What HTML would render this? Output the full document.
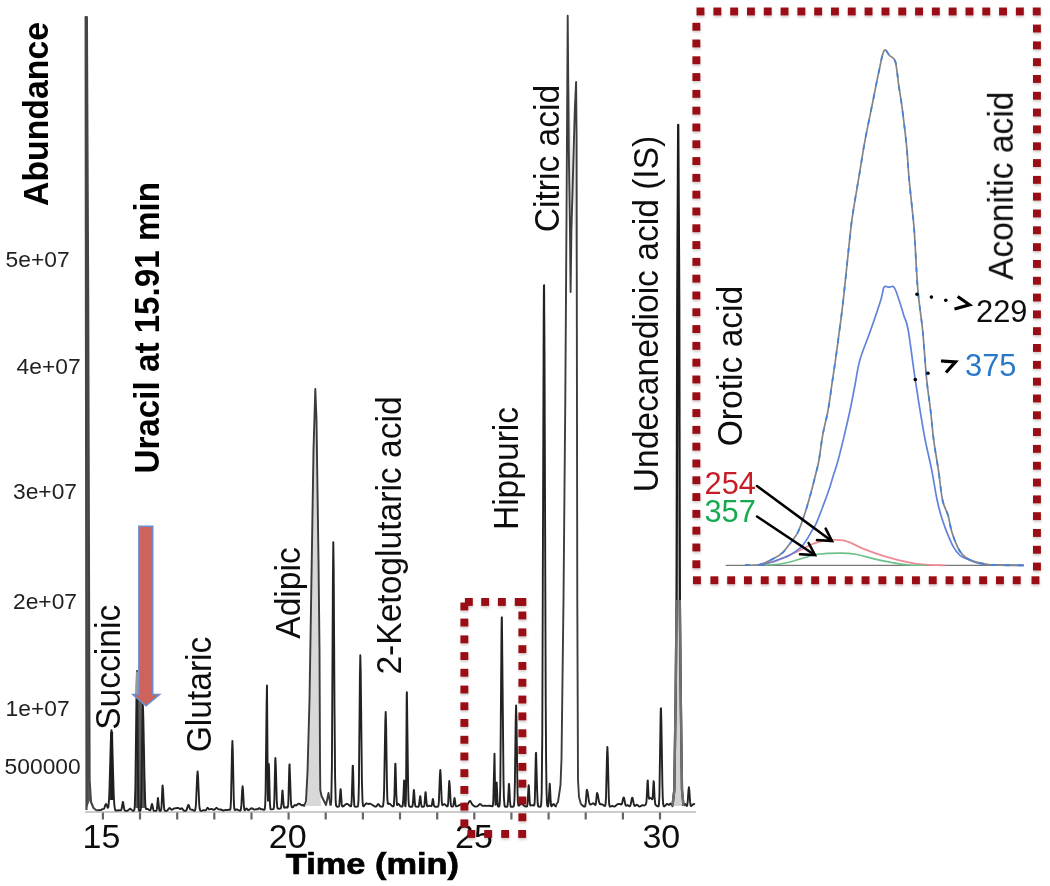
<!DOCTYPE html>
<html><head><meta charset="utf-8"><style>
html,body{margin:0;padding:0;background:#fff;}
body{width:1050px;height:886px;overflow:hidden;}
svg{display:block;will-change:transform;}
text{font-family:"Liberation Sans",sans-serif;}
</style></head><body>
<svg width="1050" height="886" viewBox="0 0 1050 886">
<defs><filter id="soft" x="0" y="0" width="1050" height="886" filterUnits="userSpaceOnUse"><feGaussianBlur stdDeviation="0.45"/></filter><filter id="sh" x="-10%" y="-10%" width="120%" height="120%"><feDropShadow dx="0.3" dy="2" stdDeviation="1" flood-color="#000" flood-opacity="0.18"/></filter></defs>
<rect width="1050" height="886" fill="#fff"/>
<g filter="url(#soft)">
<!-- axis -->
<line x1="85" y1="812" x2="696" y2="812" stroke="#bbb" stroke-width="1.5"/>
<g stroke="#666" stroke-width="2.2"><line x1="102.9" y1="812.5" x2="102.9" y2="819.5"/><line x1="140.0" y1="812.5" x2="140.0" y2="819.5"/><line x1="177.2" y1="812.5" x2="177.2" y2="819.5"/><line x1="214.3" y1="812.5" x2="214.3" y2="819.5"/><line x1="251.5" y1="812.5" x2="251.5" y2="819.5"/><line x1="288.6" y1="812.5" x2="288.6" y2="819.5"/><line x1="325.7" y1="812.5" x2="325.7" y2="819.5"/><line x1="362.9" y1="812.5" x2="362.9" y2="819.5"/><line x1="400.0" y1="812.5" x2="400.0" y2="819.5"/><line x1="437.2" y1="812.5" x2="437.2" y2="819.5"/><line x1="474.3" y1="812.5" x2="474.3" y2="819.5"/><line x1="511.4" y1="812.5" x2="511.4" y2="819.5"/><line x1="548.6" y1="812.5" x2="548.6" y2="819.5"/><line x1="585.7" y1="812.5" x2="585.7" y2="819.5"/><line x1="622.9" y1="812.5" x2="622.9" y2="819.5"/><line x1="660.0" y1="812.5" x2="660.0" y2="819.5"/></g>
<!-- fills -->
<path d="M135.3,808 L136.3,705 L137,670 L137.8,700 L142.8,700 L144.5,760 L146,808 Z" fill="#5c5c5c"/>
<path d="M306,806 L307.5,772 L309.5,700 L310.8,620 L312.5,520 L313.6,450 L315.3,389 L317,420 L318.5,560 L319.5,650 L320,760 L320.5,795 L321,806 Z" fill="#d8d8d8"/>
<path d="M567.7,40 L568.8,150 L570.0,231 L570.6,292 L571.4,231 L574.8,110 L576.1,82 L576.6,140 L576.8,292 Z" fill="#e6e6e6"/>
<!-- trace -->
<path d="M97.2,810.2 L100.8,810.1 L102.4,809.1 L103.8,808.9 L104.4,807.9 L105.4,804.8 L106.0,804.0 L106.4,804.4 L107.8,807.8 L108.0,807.7 L108.2,807.3 L108.4,806.5 L109.0,800.1 L109.4,791.6 L110.8,741.9 L111.4,730.3 L111.6,730.3 L112.0,736.3 L113.8,796.5 L114.4,805.7 L115.0,809.4 L115.4,810.3 L116.0,810.6 L118.6,810.3 L120.6,810.4 L121.0,810.3 L121.6,809.0 L122.8,802.0 L123.0,802.0 L123.2,802.7 L124.2,809.2 L124.8,810.6 L125.6,810.9 L127.4,810.7 L130.0,808.7 L130.6,808.8 L132.0,810.2 L132.8,810.7 L133.8,810.7 L134.2,810.2 L134.6,808.1 L134.8,805.7 L135.4,786.4 L136.6,685.4 L137.0,671.0 L138.2,795.5 L138.6,808.1 L138.8,809.9 L139.2,810.8 L140.2,810.8 L140.6,810.0 L141.0,806.5 L141.2,802.3 L141.6,785.1 L142.4,720.4 L142.8,705.0 L143.0,706.9 L143.4,721.0 L144.8,793.4 L145.4,805.3 L145.8,808.1 L146.2,809.0 L147.8,808.9 L149.6,810.2 L150.2,810.3 L150.8,809.1 L151.6,805.0 L152.0,804.0 L152.4,805.0 L153.2,809.2 L153.6,810.3 L154.0,810.8 L154.4,810.9 L156.0,810.9 L156.4,810.6 L156.8,809.5 L157.0,808.1 L157.8,798.8 L158.0,798.0 L159.2,809.5 L159.4,810.3 L159.8,810.8 L160.4,810.9 L160.8,810.7 L161.2,809.6 L161.6,805.4 L162.4,787.0 L162.6,785.5 L163.0,789.2 L164.0,807.2 L164.4,809.8 L164.8,810.7 L166.0,810.9 L167.2,810.6 L167.8,810.0 L169.0,808.4 L169.6,808.0 L170.2,808.3 L171.4,809.6 L172.0,809.8 L174.4,808.4 L177.8,808.0 L178.6,808.2 L180.4,809.1 L181.6,808.3 L182.0,808.3 L183.8,810.6 L184.6,810.9 L185.6,810.8 L186.2,810.5 L186.6,809.9 L188.0,805.5 L188.4,804.9 L188.8,805.4 L189.8,808.4 L190.4,809.4 L192.0,809.7 L194.0,810.7 L194.8,810.7 L195.4,809.4 L196.0,804.0 L197.2,775.5 L197.6,771.4 L198.0,775.5 L199.2,804.0 L199.6,808.3 L200.2,810.5 L201.0,810.9 L202.0,810.7 L203.8,810.1 L205.6,810.4 L206.2,809.9 L207.2,808.1 L207.6,807.8 L208.0,808.0 L209.0,809.3 L209.4,809.4 L211.6,808.9 L213.6,809.8 L214.2,809.8 L214.8,809.4 L216.0,808.0 L216.4,807.8 L216.8,807.9 L218.4,809.4 L220.6,809.5 L223.2,810.5 L224.0,810.4 L225.6,809.9 L227.0,810.1 L228.6,809.8 L230.0,809.9 L230.4,809.0 L230.6,807.5 L231.0,800.4 L232.0,751.1 L232.4,740.9 L232.8,751.1 L233.8,800.4 L234.2,807.6 L234.6,809.7 L235.0,810.0 L236.2,809.5 L237.0,809.4 L239.2,810.5 L240.0,810.7 L240.4,810.6 L240.8,809.8 L241.4,804.9 L242.2,789.9 L242.6,786.3 L243.0,789.9 L243.8,804.9 L244.2,808.8 L244.6,810.2 L245.0,810.2 L246.0,808.8 L246.4,808.5 L246.8,808.7 L247.8,809.9 L248.4,810.2 L249.0,809.9 L250.8,808.5 L251.4,808.3 L252.2,808.4 L253.8,809.4 L254.6,809.7 L256.4,809.1 L257.8,809.2 L259.2,808.1 L259.6,808.2 L260.8,809.3 L262.2,809.2 L263.8,809.9 L264.4,809.8 L264.8,808.9 L265.2,804.7 L265.6,791.7 L266.6,703.6 L267.0,685.5 L267.8,794.5 L268.0,800.7 L268.2,795.6 L268.8,764.0 L269.0,766.7 L269.8,799.7 L270.0,804.5 L270.4,808.6 L270.6,809.1 L271.0,809.4 L273.4,809.1 L273.8,808.1 L274.0,806.6 L274.4,798.1 L275.2,761.0 L275.4,758.0 L275.8,765.4 L276.8,801.4 L277.2,806.7 L277.6,808.3 L278.2,808.7 L280.2,808.5 L280.6,808.4 L281.0,807.9 L281.6,803.2 L282.2,792.7 L282.4,790.7 L282.6,790.6 L283.4,803.0 L284.0,807.4 L284.4,807.7 L285.8,807.3 L287.4,807.5 L287.8,807.1 L288.2,804.4 L288.4,800.8 L289.2,769.6 L289.4,764.7 L289.6,764.4 L290.8,799.2 L291.2,804.9 L291.6,806.9 L292.0,807.3 L292.6,807.3 L293.2,806.9 L294.6,805.0 L295.0,805.0 L295.8,805.5 L296.2,805.5 L298.0,804.0 L298.8,803.7 L299.6,803.9 L301.6,805.3 L302.2,805.3 L304.0,804.9 L304.0,806.5 M330.5,805.5 L331.1,802.3 L331.3,799.5 L331.9,766.5 L332.9,580.2 L333.3,542.1 L333.7,569.5 L334.5,707.4 L335.1,777.5 L335.7,801.4 L336.1,805.4 L336.5,806.4 L337.1,806.7 L338.7,806.6 L339.1,806.1 L339.3,805.4 L340.5,789.3 L340.7,789.3 L340.9,791.3 L341.7,803.9 L341.9,805.3 L342.3,806.4 L342.7,806.5 L343.5,806.2 L345.9,804.1 L346.7,803.8 L347.7,804.1 L350.3,806.2 L350.7,806.4 L351.1,806.0 L351.5,803.5 L351.7,800.1 L352.7,765.6 L352.9,765.6 L353.1,770.4 L353.7,794.6 L354.3,805.4 L354.7,806.5 L355.5,806.7 L357.5,806.6 L357.9,806.2 L358.1,805.4 L358.5,800.4 L358.9,784.5 L359.9,677.2 L360.3,655.2 L360.7,670.8 L361.9,780.2 L362.5,801.0 L362.9,805.1 L363.3,806.2 L363.7,806.2 L364.1,806.0 L365.7,803.8 L366.5,803.3 L368.1,804.0 L369.7,803.6 L370.3,803.7 L372.9,805.2 L374.3,806.2 L375.1,806.6 L375.7,806.6 L376.3,806.3 L378.1,804.0 L378.7,804.3 L379.9,806.1 L380.7,806.6 L382.5,806.6 L383.1,805.7 L383.7,800.5 L384.1,790.1 L385.3,721.7 L385.7,711.9 L386.1,725.4 L386.9,782.6 L387.3,797.6 L387.7,803.0 L388.1,804.0 L389.1,803.6 L389.7,803.7 L391.7,805.7 L392.7,806.4 L393.5,806.4 L393.9,805.3 L394.5,794.0 L395.1,768.6 L395.3,763.6 L395.5,763.6 L396.3,793.7 L396.9,804.4 L397.1,805.0 L397.3,805.1 L398.1,804.2 L398.7,804.0 L400.3,806.1 L401.3,806.6 L402.3,806.6 L402.7,805.8 L403.3,799.0 L404.1,780.4 L404.3,780.9 L404.9,801.8 L405.1,805.1 L405.3,806.2 L405.5,806.3 L405.9,799.6 L406.1,785.3 L406.7,694.9 L406.9,692.1 L408.1,784.6 L408.5,799.9 L408.9,805.2 L409.3,806.4 L409.9,806.7 L411.9,806.7 L412.3,806.4 L412.5,805.9 L412.9,803.1 L413.7,791.0 L413.9,790.0 L414.1,791.0 L414.9,803.1 L415.3,805.9 L415.7,806.6 L418.3,806.7 L418.7,806.4 L418.9,805.9 L420.1,796.2 L420.3,796.2 L420.5,797.4 L421.1,803.6 L421.5,805.9 L421.7,806.4 L422.1,806.7 L423.5,806.7 L423.9,806.5 L424.3,805.6 L424.5,804.4 L425.3,793.9 L425.5,792.2 L425.7,792.2 L426.5,802.3 L427.1,806.0 L427.5,806.3 L429.3,805.7 L431.1,806.2 L431.5,806.0 L431.9,804.9 L432.7,799.4 L432.9,799.0 L433.1,799.4 L433.9,805.0 L434.3,806.3 L434.7,806.6 L435.3,806.7 L437.5,806.7 L438.1,806.4 L438.5,805.2 L438.9,801.3 L439.9,775.3 L440.3,769.9 L440.7,775.2 L441.7,800.8 L442.1,804.3 L442.5,805.2 L443.7,804.3 L444.3,804.1 L444.9,804.4 L446.9,806.3 L447.3,806.4 L447.7,806.1 L448.1,803.8 L448.3,801.1 L449.1,782.5 L449.3,781.0 L449.7,784.7 L450.7,802.9 L451.1,805.6 L451.3,806.2 L451.7,806.6 L452.7,806.6 L453.1,806.3 L453.3,805.7 L454.5,798.0 L454.7,798.5 L455.5,804.7 L455.9,806.1 L456.3,806.4 L457.5,806.1 L459.9,804.9 L462.3,804.5 L464.5,803.7 L465.3,803.8 L466.7,804.4 L467.3,804.3 L467.9,803.9 L469.3,801.4 L469.9,800.9 L470.3,801.1 L470.7,801.6 L472.3,804.6 L474.3,806.2 L475.1,806.5 L476.1,806.6 L477.1,806.4 L477.9,805.8 L479.3,804.3 L480.1,804.0 L480.7,804.3 L482.1,805.6 L482.9,805.9 L485.1,805.7 L487.3,805.9 L489.5,805.8 L492.5,806.3 L492.9,805.5 L493.3,800.7 L494.5,753.7 L495.1,791.3 L495.5,804.6 L495.7,804.8 L495.9,802.1 L496.5,782.8 L496.7,782.5 L497.7,805.0 L498.1,806.5 L498.5,806.7 L499.1,806.5 L499.5,805.6 L499.9,801.2 L500.3,785.7 L501.5,632.1 L501.7,617.9 L501.9,617.3 L503.5,780.0 L503.9,797.2 L504.5,805.4 L504.9,806.4 L505.3,806.7 L506.9,806.7 L507.3,806.4 L507.5,806.0 L508.1,800.0 L508.9,784.0 L509.1,784.0 L509.3,786.7 L509.9,800.0 L510.5,806.0 L510.7,806.4 L511.1,806.7 L513.3,806.7 L513.7,806.3 L514.1,804.7 L514.5,798.5 L514.9,782.0 L515.7,720.2 L516.1,705.5 L516.5,720.1 L517.5,791.6 L517.9,802.1 L518.3,805.2 L518.5,805.6 L518.9,805.6 L520.7,803.8 L521.5,803.5 L522.3,803.9 L524.1,805.7 L524.9,806.3 L526.5,806.6 L527.1,806.2 L527.5,804.3 L527.7,802.0 L528.5,786.6 L528.7,785.2 L528.9,786.5 L529.7,801.5 L530.1,804.8 L530.5,805.5 L532.3,805.1 L533.9,805.5 L534.3,805.1 L534.7,801.9 L534.9,797.5 L535.7,759.1 L535.9,753.0 L536.1,752.8 L537.1,790.1 L537.7,803.5 L538.1,806.0 L538.5,806.6 L540.3,806.7 L540.7,806.4 L540.9,805.9 L541.3,803.0 L541.7,792.4 L542.3,733.3 L543.7,313.4 L543.9,285.8 L544.1,285.1 L544.5,349.7 L545.7,700.1 L546.1,760.6 L546.5,790.0 L546.9,801.6 L547.1,804.1 L547.5,806.1 L547.9,806.4 L548.1,806.2 L548.5,804.1 L549.7,783.6 L549.9,785.0 L550.7,801.7 L551.1,805.5 L551.3,806.1 L551.7,806.3 L553.1,804.3 L553.5,804.0 L553.9,804.2 L555.1,806.0 L555.9,806.4 L556.0,805.0 M581.0,804.5 L582.0,804.9 L583.2,806.1 L583.8,806.5 L584.8,806.6 L585.2,806.0 L585.8,802.4 L586.6,791.4 L586.8,790.0 L587.0,789.8 L587.6,792.0 L589.0,801.6 L589.4,803.1 L590.0,804.3 L590.4,804.5 L591.0,804.5 L592.8,803.4 L593.4,803.3 L594.0,803.7 L595.0,804.9 L595.4,805.0 L595.8,803.9 L596.0,802.7 L596.8,794.3 L597.0,793.2 L597.2,793.1 L597.8,794.9 L599.0,801.6 L599.8,803.9 L600.4,804.3 L601.6,804.3 L602.4,804.5 L604.6,805.9 L605.0,806.0 L605.2,805.7 L605.6,803.9 L606.0,797.8 L607.0,755.6 L607.4,747.0 L607.8,755.6 L608.8,798.0 L609.2,804.2 L609.4,805.5 L609.8,806.5 L610.4,806.6 L612.2,805.8 L613.8,806.5 L614.6,806.5 L615.4,806.1 L616.8,804.7 L617.4,804.3 L619.6,803.9 L621.2,804.5 L621.6,804.3 L622.2,803.0 L623.2,798.3 L623.6,797.4 L623.8,797.4 L624.2,798.6 L625.4,804.7 L626.0,805.7 L626.4,805.7 L627.6,805.0 L629.2,806.2 L629.6,806.3 L630.0,806.1 L630.6,804.8 L631.8,798.8 L632.2,797.6 L632.4,797.6 L632.6,798.0 L633.8,804.0 L634.2,805.3 L634.6,806.0 L635.2,805.9 L636.2,805.0 L636.8,804.7 L637.4,805.0 L638.6,806.2 L639.4,806.5 L640.2,806.3 L642.0,805.3 L642.6,805.2 L644.0,805.6 L645.0,805.2 L645.6,804.6 L646.0,803.9 L646.4,802.0 L646.8,796.8 L647.4,783.5 L647.6,780.7 L647.8,780.5 L648.6,796.2 L649.0,798.6 L649.2,798.7 L650.0,798.1 L650.6,798.0 L651.2,798.3 L652.2,799.3 L652.4,799.2 L652.6,798.6 L653.6,781.2 L653.8,781.5 L654.0,784.2 L654.6,797.5 L655.2,803.8 L655.6,804.8 L656.4,805.7 L657.6,806.3 L658.4,806.3 L658.8,805.3 L659.0,803.7 L659.4,795.7 L660.6,715.9 L660.8,708.6 L661.0,708.3 L661.4,723.1 L662.4,785.3 L662.8,798.2 L663.2,804.0 L663.6,805.9 L664.0,806.4 L664.4,806.4 L665.0,806.0 L666.8,803.9 L667.4,803.9 L668.8,804.9 L669.2,804.8 L670.4,803.5 L671.0,803.8 L672.2,805.9 L672.4,806.2 L672.5,806.0 M683.5,806.0 L683.7,805.3 L684.5,804.2 L684.9,804.0 L685.3,804.2 L686.7,806.0 L687.1,805.7 L687.3,805.0 L687.7,801.9 L688.5,790.1 L688.9,787.3 L689.3,790.1 L690.1,801.9 L690.7,805.6 L691.1,806.1 L691.5,805.9 L693.1,804.4 L693.7,804.0 L694.3,804.1 L694.9,804.5" fill="none" stroke="#222" stroke-width="1.9" stroke-linejoin="round"/>
<path d="M85.6,17 L86.9,17 L88.2,300 L89.6,780 L90,800 L86.5,809 L85.9,300 Z" fill="#555"/>
<path d="M86.5,810.0 L85.9,300.0 L85.6,17.0 L86.9,17.0 L88.2,300.0 L89.6,780.0 L91.0,802.0 L93.5,808.0 L97.0,810.8" fill="none" stroke="#444" stroke-width="2.1" stroke-linejoin="round"/>
<path d="M304.0,806.5 L306.0,801.0 L307.5,772.0 L309.5,700.0 L310.8,620.0 L313.5,450.0 L315.3,389.0 L316.5,420.0 L318.5,560.0 L319.5,650.0 L320.0,760.0 L320.3,790.0 L321.5,796.0 L323.5,800.0 L326.0,805.0 L328.5,793.0 L330.5,805.5" fill="none" stroke="#3a3a3a" stroke-width="1.9" stroke-linejoin="round"/>
<path d="M556.0,805.0 L558.0,802.0 L560.5,785.0 L561.5,759.0 L563.5,600.0 L565.3,400.0 L566.5,220.0 L567.7,15.8 L568.8,150.0 L570.0,231.0 L570.6,292.0 L571.4,231.0 L574.8,110.0 L576.1,82.0 L576.6,140.0 L576.8,300.0 L577.3,600.0 L578.0,780.0 L579.0,797.0 L581.0,804.5" fill="none" stroke="#3c3c3c" stroke-width="1.9" stroke-linejoin="round"/>
<path d="M676.6,600 L679.8,600 L680.8,700 L682,790 L683.5,806 L672.5,806 L674.3,790 L675.6,700 Z" fill="#d2d2d2"/>
<path d="M672.5,806.0 L674.3,790.0 L675.6,700.0 L676.6,600.0 L677.3,300.0 L678.2,125.0 L679.2,300.0 L679.8,600.0 L680.8,700.0 L682.0,790.0 L683.5,806.0" fill="none" stroke="#1a1a1a" stroke-width="2.3" stroke-linejoin="round"/>
<path d="M672.5,806 L674.3,790 L675.6,700 L676.6,600 M679.8,600 L680.8,700 L682,790 L683.5,806" fill="none" stroke="#707070" stroke-width="2.4" stroke-linejoin="round"/>
<line x1="111.6" y1="732" x2="111.6" y2="800" stroke="#1a1a1a" stroke-width="3"/>
<line x1="137" y1="671.5" x2="137" y2="696" stroke="#999" stroke-width="2.2"/>
<!-- y labels -->
<g font-size="22.8" fill="#222">
<text x="5.6" y="267">5e+07</text>
<text x="16.6" y="374">4e+07</text>
<text x="13" y="499">3e+07</text>
<text x="13" y="609">2e+07</text>
<text x="5.6" y="716">1e+07</text>
<text x="4.6" y="774">500000</text>
</g>
<text font-size="33.8" font-weight="bold" text-anchor="middle" transform="translate(48,114) scale(1.06,1) rotate(-90)">Abundance</text>
<!-- x labels -->
<g font-size="34" fill="#111" text-anchor="middle">
<text x="101.5" y="848">15</text>
<text x="287.7" y="848">20</text>
<text x="474" y="848">25</text>
<text x="661.3" y="848">30</text>
</g>
<text font-size="30.3" font-weight="bold" stroke="#000" stroke-width="0.7" transform="translate(285.8,873.5) scale(1.135,1)">Time (min)</text>
<!-- peak labels -->
<g font-size="33.6" fill="#111" text-anchor="middle">
<text transform="translate(119.8,667.3) scale(1.06,1) rotate(-90)">Succinic</text>
<text transform="translate(211.3,694.5) scale(1.06,1) rotate(-90)">Glutaric</text>
<text transform="translate(299.6,593) scale(1.06,1) rotate(-90)">Adipic</text>
<text transform="translate(401,535.5) scale(1.06,1) rotate(-90)">2-Ketoglutaric acid</text>
<text transform="translate(517.6,468.5) scale(1.06,1) rotate(-90)">Hippuric</text>
<text transform="translate(558.5,158.5) scale(1.06,1) rotate(-90)">Citric acid</text>
<text transform="translate(657.6,314) scale(1.06,1) rotate(-90)">Undecanedioic acid (IS)</text>
<text transform="translate(1012.7,185.8) scale(1.06,1) rotate(-90)">Aconitic acid</text>
<text transform="translate(741.8,366) scale(1.06,1) rotate(-90)">Orotic acid</text>
</g>
<text font-size="33.2" font-weight="bold" text-anchor="middle" transform="translate(158.8,327.8) scale(1.06,1) rotate(-90)">Uracil at 15.91 min</text>
<!-- red arrow -->
<path d="M138.9,526.3 L152.7,526.3 L152.7,694.5 L159.5,694.5 L146,705.8 L132.9,694.5 L138.9,694.5 Z" fill="#cd645c" stroke="#6a8dcc" stroke-width="1.6" stroke-linejoin="miter"/>
<!-- small dotted rect -->
<g fill="#9a0e13" filter="url(#sh)"><rect x="460.4" y="618.6" width="7.9" height="7.9"/><rect x="460.4" y="635.4" width="7.9" height="7.9"/><rect x="460.4" y="652.1" width="7.9" height="7.9"/><rect x="460.4" y="668.8" width="7.9" height="7.9"/><rect x="460.4" y="685.6" width="7.9" height="7.9"/><rect x="460.4" y="702.3" width="7.9" height="7.9"/><rect x="460.4" y="719.0" width="7.9" height="7.9"/><rect x="460.4" y="735.8" width="7.9" height="7.9"/><rect x="460.4" y="752.5" width="7.9" height="7.9"/><rect x="460.4" y="769.2" width="7.9" height="7.9"/><rect x="460.4" y="786.0" width="7.9" height="7.9"/><rect x="460.4" y="802.7" width="7.9" height="7.9"/><rect x="460.4" y="819.4" width="7.9" height="7.9"/><rect x="518.4" y="611.5" width="7.9" height="7.9"/><rect x="518.4" y="628.4" width="7.9" height="7.9"/><rect x="518.4" y="645.2" width="7.9" height="7.9"/><rect x="518.4" y="662.0" width="7.9" height="7.9"/><rect x="518.4" y="678.8" width="7.9" height="7.9"/><rect x="518.4" y="695.6" width="7.9" height="7.9"/><rect x="518.4" y="712.4" width="7.9" height="7.9"/><rect x="518.4" y="729.3" width="7.9" height="7.9"/><rect x="518.4" y="746.1" width="7.9" height="7.9"/><rect x="518.4" y="762.9" width="7.9" height="7.9"/><rect x="518.4" y="779.7" width="7.9" height="7.9"/><rect x="518.4" y="796.5" width="7.9" height="7.9"/><rect x="518.4" y="813.3" width="7.9" height="7.9"/><rect x="464.9" y="598.0" width="7.9" height="7.9"/><rect x="481.2" y="598.0" width="7.9" height="7.9"/><rect x="497.9" y="598.0" width="7.9" height="7.9"/><rect x="514.8" y="598.0" width="7.9" height="7.9"/><rect x="518.4" y="598.0" width="7.9" height="7.9"/><rect x="460.4" y="602.5" width="7.9" height="7.9"/><rect x="467.4" y="830.0" width="7.9" height="7.9"/><rect x="484.2" y="830.0" width="7.9" height="7.9"/><rect x="501.2" y="830.0" width="7.9" height="7.9"/><rect x="518.2" y="830.0" width="7.9" height="7.9"/></g>
<!-- inset -->

<!-- inset content -->
<line x1="725.7" y1="565.3" x2="1024" y2="565.3" stroke="#777" stroke-width="1.3"/>
<path d="M760.0,564.5 C762.5,564.0 771.2,562.6 775.0,561.5 C778.8,560.4 779.1,559.6 783.0,557.9 C786.9,556.1 793.6,553.3 798.5,551.0 C803.4,548.7 808.7,545.7 812.6,544.0 C816.5,542.3 818.6,541.7 822.0,541.0 C825.4,540.3 829.0,539.9 833.1,539.9 C837.2,539.9 841.9,539.8 846.9,541.3 C851.9,542.8 856.4,546.0 862.9,548.6 C869.4,551.2 878.1,554.3 885.7,556.6 C893.3,558.9 902.1,561.0 908.6,562.3 C915.1,563.6 918.9,564.1 925.0,564.6 C931.1,565.1 941.7,565.2 945.0,565.3" fill="none" stroke="#f08a94" stroke-width="1.8"/>
<path d="M765.0,565.2 C767.5,565.0 775.5,564.6 780.0,564.0 C784.5,563.4 787.8,562.6 792.0,561.5 C796.2,560.4 800.8,558.7 805.0,557.5 C809.2,556.3 811.3,555.0 817.1,554.3 C822.9,553.6 833.5,553.1 840.0,553.1 C846.5,553.1 850.3,553.3 856.0,554.3 C861.7,555.3 868.2,557.5 874.3,558.9 C880.4,560.3 886.9,561.7 892.6,562.7 C898.3,563.7 903.2,564.6 908.6,565.0 C914.0,565.4 922.3,565.2 925.0,565.3" fill="none" stroke="#6cc08a" stroke-width="1.6"/>
<path d="M762.0,565.0 C764.5,564.2 772.2,561.9 776.7,560.3 C781.2,558.7 785.3,557.5 789.2,555.4 C793.1,553.3 797.4,550.5 800.3,547.9 C803.2,545.3 804.6,542.7 806.6,539.8 C808.6,536.9 810.5,533.1 812.1,530.5 C813.7,527.9 814.2,527.8 816.0,523.9 C817.8,520.0 820.6,512.5 822.7,506.9 C824.9,501.2 827.1,495.3 828.9,490.0 C830.7,484.7 832.0,480.0 833.5,475.0 C835.0,470.0 836.4,466.7 838.2,460.0 C840.0,453.3 842.4,443.3 844.4,435.0 C846.4,426.7 848.3,418.3 850.1,410.0 C851.9,401.7 853.4,393.3 855.0,385.0 C856.6,376.7 857.3,369.2 859.9,360.0 C862.5,350.8 867.2,340.0 870.7,330.0 C874.2,320.0 878.6,307.1 880.8,300.0 C883.0,292.9 882.6,289.3 884.0,287.2 C885.4,285.1 887.3,287.2 889.0,287.2 C890.7,287.2 892.4,285.0 894.1,287.2 C895.8,289.4 897.6,295.7 899.2,300.5 C900.9,305.3 902.5,311.1 904.0,316.0 C905.5,320.9 906.4,319.7 908.2,330.0 C910.0,340.3 913.0,364.7 915.0,378.0 C917.0,391.3 918.3,399.7 920.0,410.0 C921.7,420.3 923.2,430.0 925.2,440.0 C927.2,450.0 929.7,460.0 931.7,470.0 C933.7,480.0 935.5,492.4 937.1,500.0 C938.7,507.6 939.5,510.5 941.1,515.8 C942.7,521.1 944.5,526.3 946.6,531.6 C948.7,536.9 951.5,543.5 953.7,547.4 C955.9,551.3 957.4,553.2 960.0,555.3 C962.6,557.4 965.9,558.5 969.5,560.0 C973.1,561.5 977.1,563.2 981.4,564.0 C985.6,564.8 987.9,564.8 995.0,565.0 C1002.1,565.2 1019.2,565.2 1024.0,565.3" fill="none" stroke="#6282dc" stroke-width="1.7"/>
<path d="M745.0,565.2 C747.5,565.1 755.2,565.7 760.0,564.6 C764.8,563.5 769.8,560.5 773.6,558.5 C777.4,556.5 780.2,554.9 783.0,552.3 C785.8,549.7 788.0,546.1 790.4,543.0 C792.8,539.9 795.2,537.2 797.2,533.6 C799.2,530.0 800.6,525.7 802.2,521.2 C803.8,516.8 805.3,512.1 806.9,506.9 C808.5,501.7 810.3,495.3 811.7,490.0 C813.1,484.7 814.3,480.0 815.5,475.0 C816.7,470.0 817.8,466.7 819.0,460.0 C820.2,453.3 821.2,443.3 822.7,435.0 C824.2,426.7 826.6,418.3 828.1,410.0 C829.6,401.7 830.6,393.3 831.8,385.0 C833.0,376.7 834.2,369.2 835.5,360.0 C836.8,350.8 838.2,340.0 839.5,330.0 C840.8,320.0 841.5,316.0 843.3,300.0 C845.1,284.0 848.5,249.2 850.2,234.1 C851.9,219.0 852.0,219.1 853.5,209.3 C855.0,199.5 857.3,186.7 859.2,175.4 C861.1,164.1 862.7,152.9 864.8,141.6 C866.9,130.3 869.3,119.0 871.6,107.7 C873.9,96.4 876.3,83.4 878.4,73.9 C880.5,64.4 882.1,53.9 884.0,50.8 C885.9,47.7 887.6,53.7 889.5,55.5 C891.4,57.3 893.8,56.5 895.3,61.4 C896.8,66.3 897.6,77.4 898.7,85.1 C899.8,92.8 900.8,97.5 902.1,107.7 C903.4,117.9 905.5,134.7 906.6,146.0 C907.7,157.3 907.9,164.8 908.8,175.4 C909.7,186.0 911.2,199.5 912.2,209.3 C913.2,219.1 913.6,220.8 914.5,234.1 C915.4,247.4 916.4,273.0 917.8,289.0 C919.1,305.0 921.1,315.2 922.6,330.0 C924.1,344.8 925.2,364.7 926.5,378.0 C927.8,391.3 929.3,399.7 930.5,410.0 C931.7,420.3 932.4,430.0 933.7,440.0 C935.0,450.0 936.9,460.0 938.4,470.0 C939.9,480.0 940.9,492.4 942.5,500.0 C944.1,507.6 946.7,510.5 948.2,515.8 C949.7,521.1 950.1,526.3 951.7,531.6 C953.3,536.9 955.8,543.5 957.7,547.4 C959.6,551.3 961.1,553.2 963.2,555.3 C965.3,557.4 966.7,558.5 970.3,560.0 C973.9,561.5 980.0,563.1 985.0,564.0 C990.0,564.9 993.5,565.0 1000.0,565.2 C1006.5,565.4 1020.0,565.3 1024.0,565.3" fill="none" stroke="#858585" stroke-width="1.7"/>
<path d="M745.0,565.2 C747.5,565.1 755.2,565.7 760.0,564.6 C764.8,563.5 769.8,560.5 773.6,558.5 C777.4,556.5 780.2,554.9 783.0,552.3 C785.8,549.7 788.0,546.1 790.4,543.0 C792.8,539.9 795.2,537.2 797.2,533.6 C799.2,530.0 800.6,525.7 802.2,521.2 C803.8,516.8 805.3,512.1 806.9,506.9 C808.5,501.7 810.3,495.3 811.7,490.0 C813.1,484.7 814.3,480.0 815.5,475.0 C816.7,470.0 817.8,466.7 819.0,460.0 C820.2,453.3 821.2,443.3 822.7,435.0 C824.2,426.7 826.6,418.3 828.1,410.0 C829.6,401.7 830.6,393.3 831.8,385.0 C833.0,376.7 834.2,369.2 835.5,360.0 C836.8,350.8 838.2,340.0 839.5,330.0 C840.8,320.0 841.5,316.0 843.3,300.0 C845.1,284.0 848.5,249.2 850.2,234.1 C851.9,219.0 852.0,219.1 853.5,209.3 C855.0,199.5 857.3,186.7 859.2,175.4 C861.1,164.1 862.7,152.9 864.8,141.6 C866.9,130.3 869.3,119.0 871.6,107.7 C873.9,96.4 876.3,83.4 878.4,73.9 C880.5,64.4 882.1,53.9 884.0,50.8 C885.9,47.7 887.6,53.7 889.5,55.5 C891.4,57.3 893.8,56.5 895.3,61.4 C896.8,66.3 897.6,77.4 898.7,85.1 C899.8,92.8 900.8,97.5 902.1,107.7 C903.4,117.9 905.5,134.7 906.6,146.0 C907.7,157.3 907.9,164.8 908.8,175.4 C909.7,186.0 911.2,199.5 912.2,209.3 C913.2,219.1 913.6,220.8 914.5,234.1 C915.4,247.4 916.4,273.0 917.8,289.0 C919.1,305.0 921.1,315.2 922.6,330.0 C924.1,344.8 925.2,364.7 926.5,378.0 C927.8,391.3 929.3,399.7 930.5,410.0 C931.7,420.3 932.4,430.0 933.7,440.0 C935.0,450.0 936.9,460.0 938.4,470.0 C939.9,480.0 940.9,492.4 942.5,500.0 C944.1,507.6 946.7,510.5 948.2,515.8 C949.7,521.1 950.1,526.3 951.7,531.6 C953.3,536.9 955.8,543.5 957.7,547.4 C959.6,551.3 961.1,553.2 963.2,555.3 C965.3,557.4 966.7,558.5 970.3,560.0 C973.9,561.5 980.0,563.1 985.0,564.0 C990.0,564.9 993.5,565.0 1000.0,565.2 C1006.5,565.4 1020.0,565.3 1024.0,565.3" fill="none" stroke="#4282e0" stroke-width="1.7" stroke-dasharray="5 8"/>
<!-- labels -->
<g font-size="30.8">
<text x="976" y="322" fill="#111">229</text>
<text x="965" y="376" fill="#2a78c8">375</text>
<text x="704.6" y="494" fill="#c81e28">254</text>
<text x="704.4" y="522" fill="#14aa50">357</text>
</g>
<!-- arrows -->
<g stroke="#000" stroke-width="2.6" fill="none" stroke-linecap="round">
<line x1="757" y1="486" x2="831" y2="540.5"/>
<polyline points="817,540 832,541 825.7,528.6"/>
<line x1="757" y1="516.5" x2="814" y2="554.5"/>
<polyline points="800,554.3 815,555 808.6,543"/>
</g>
<g fill="#000">
<circle cx="917" cy="294.2" r="1.8"/><circle cx="931.4" cy="297.1" r="1.8"/><circle cx="945.8" cy="300.3" r="1.8"/>
<circle cx="915.3" cy="379.6" r="1.8"/><circle cx="928" cy="373.2" r="1.8"/>
</g>
<g stroke="#000" stroke-width="3.2" fill="none" stroke-linejoin="miter">
<polyline points="957.7,296.5 969.5,304.8 954.5,309"/>
<polyline points="941,361 955.5,361.8 946,372.5"/>
</g>

<g fill="#9a0e13" filter="url(#sh)"><rect x="696.5" y="7.5" width="7.9" height="7.9"/><rect x="713.4" y="7.5" width="7.9" height="7.9"/><rect x="730.2" y="7.5" width="7.9" height="7.9"/><rect x="747.0" y="7.5" width="7.9" height="7.9"/><rect x="763.8" y="7.5" width="7.9" height="7.9"/><rect x="780.6" y="7.5" width="7.9" height="7.9"/><rect x="797.4" y="7.5" width="7.9" height="7.9"/><rect x="814.2" y="7.5" width="7.9" height="7.9"/><rect x="831.0" y="7.5" width="7.9" height="7.9"/><rect x="847.8" y="7.5" width="7.9" height="7.9"/><rect x="864.6" y="7.5" width="7.9" height="7.9"/><rect x="881.5" y="7.5" width="7.9" height="7.9"/><rect x="898.3" y="7.5" width="7.9" height="7.9"/><rect x="915.1" y="7.5" width="7.9" height="7.9"/><rect x="931.9" y="7.5" width="7.9" height="7.9"/><rect x="948.7" y="7.5" width="7.9" height="7.9"/><rect x="965.5" y="7.5" width="7.9" height="7.9"/><rect x="982.3" y="7.5" width="7.9" height="7.9"/><rect x="999.1" y="7.5" width="7.9" height="7.9"/><rect x="1015.9" y="7.5" width="7.9" height="7.9"/><rect x="1032.8" y="7.5" width="7.9" height="7.9"/><rect x="1033.0" y="24.6" width="7.9" height="7.9"/><rect x="1033.0" y="41.4" width="7.9" height="7.9"/><rect x="1033.0" y="58.2" width="7.9" height="7.9"/><rect x="1033.0" y="75.0" width="7.9" height="7.9"/><rect x="1033.0" y="91.8" width="7.9" height="7.9"/><rect x="1033.0" y="108.6" width="7.9" height="7.9"/><rect x="1033.0" y="125.4" width="7.9" height="7.9"/><rect x="1033.0" y="142.3" width="7.9" height="7.9"/><rect x="1033.0" y="159.1" width="7.9" height="7.9"/><rect x="1033.0" y="175.9" width="7.9" height="7.9"/><rect x="1033.0" y="192.7" width="7.9" height="7.9"/><rect x="1033.0" y="209.5" width="7.9" height="7.9"/><rect x="1033.0" y="226.3" width="7.9" height="7.9"/><rect x="1033.0" y="243.2" width="7.9" height="7.9"/><rect x="1033.0" y="260.0" width="7.9" height="7.9"/><rect x="1033.0" y="276.8" width="7.9" height="7.9"/><rect x="1033.0" y="293.6" width="7.9" height="7.9"/><rect x="1033.0" y="310.4" width="7.9" height="7.9"/><rect x="1033.0" y="327.2" width="7.9" height="7.9"/><rect x="1033.0" y="344.0" width="7.9" height="7.9"/><rect x="1033.0" y="360.9" width="7.9" height="7.9"/><rect x="1033.0" y="377.7" width="7.9" height="7.9"/><rect x="1033.0" y="394.5" width="7.9" height="7.9"/><rect x="1033.0" y="411.3" width="7.9" height="7.9"/><rect x="1033.0" y="428.1" width="7.9" height="7.9"/><rect x="1033.0" y="444.9" width="7.9" height="7.9"/><rect x="1033.0" y="461.8" width="7.9" height="7.9"/><rect x="1033.0" y="478.6" width="7.9" height="7.9"/><rect x="1033.0" y="495.4" width="7.9" height="7.9"/><rect x="1033.0" y="512.2" width="7.9" height="7.9"/><rect x="1033.0" y="529.0" width="7.9" height="7.9"/><rect x="1033.0" y="545.8" width="7.9" height="7.9"/><rect x="1033.0" y="562.6" width="7.9" height="7.9"/><rect x="692.4" y="22.8" width="7.9" height="7.9"/><rect x="692.4" y="39.5" width="7.9" height="7.9"/><rect x="692.4" y="56.3" width="7.9" height="7.9"/><rect x="692.4" y="73.1" width="7.9" height="7.9"/><rect x="692.4" y="89.9" width="7.9" height="7.9"/><rect x="692.4" y="106.7" width="7.9" height="7.9"/><rect x="692.4" y="123.5" width="7.9" height="7.9"/><rect x="692.4" y="140.3" width="7.9" height="7.9"/><rect x="692.4" y="157.1" width="7.9" height="7.9"/><rect x="692.4" y="173.9" width="7.9" height="7.9"/><rect x="692.4" y="190.7" width="7.9" height="7.9"/><rect x="692.4" y="207.5" width="7.9" height="7.9"/><rect x="692.4" y="224.3" width="7.9" height="7.9"/><rect x="692.4" y="241.1" width="7.9" height="7.9"/><rect x="692.4" y="257.9" width="7.9" height="7.9"/><rect x="692.4" y="274.7" width="7.9" height="7.9"/><rect x="692.4" y="291.5" width="7.9" height="7.9"/><rect x="692.4" y="308.3" width="7.9" height="7.9"/><rect x="692.4" y="325.1" width="7.9" height="7.9"/><rect x="692.4" y="341.9" width="7.9" height="7.9"/><rect x="692.4" y="358.7" width="7.9" height="7.9"/><rect x="692.4" y="375.5" width="7.9" height="7.9"/><rect x="692.4" y="392.3" width="7.9" height="7.9"/><rect x="692.4" y="409.1" width="7.9" height="7.9"/><rect x="692.4" y="425.9" width="7.9" height="7.9"/><rect x="692.4" y="442.7" width="7.9" height="7.9"/><rect x="692.4" y="459.5" width="7.9" height="7.9"/><rect x="692.4" y="476.3" width="7.9" height="7.9"/><rect x="692.4" y="493.1" width="7.9" height="7.9"/><rect x="692.4" y="509.9" width="7.9" height="7.9"/><rect x="692.4" y="526.7" width="7.9" height="7.9"/><rect x="692.4" y="543.5" width="7.9" height="7.9"/><rect x="692.4" y="560.3" width="7.9" height="7.9"/><rect x="693.0" y="576.3" width="7.9" height="7.9"/><rect x="710.4" y="576.3" width="7.9" height="7.9"/><rect x="727.2" y="576.3" width="7.9" height="7.9"/><rect x="744.0" y="576.3" width="7.9" height="7.9"/><rect x="760.8" y="576.3" width="7.9" height="7.9"/><rect x="777.6" y="576.3" width="7.9" height="7.9"/><rect x="794.4" y="576.3" width="7.9" height="7.9"/><rect x="811.2" y="576.3" width="7.9" height="7.9"/><rect x="828.0" y="576.3" width="7.9" height="7.9"/><rect x="844.8" y="576.3" width="7.9" height="7.9"/><rect x="861.6" y="576.3" width="7.9" height="7.9"/><rect x="878.4" y="576.3" width="7.9" height="7.9"/><rect x="895.2" y="576.3" width="7.9" height="7.9"/><rect x="912.0" y="576.3" width="7.9" height="7.9"/><rect x="928.8" y="576.3" width="7.9" height="7.9"/><rect x="945.6" y="576.3" width="7.9" height="7.9"/><rect x="962.4" y="576.3" width="7.9" height="7.9"/><rect x="979.2" y="576.3" width="7.9" height="7.9"/><rect x="996.0" y="576.3" width="7.9" height="7.9"/><rect x="1012.8" y="576.3" width="7.9" height="7.9"/><rect x="1031.5" y="576.3" width="7.9" height="7.9"/></g>
</g>
</svg>
</body></html>
